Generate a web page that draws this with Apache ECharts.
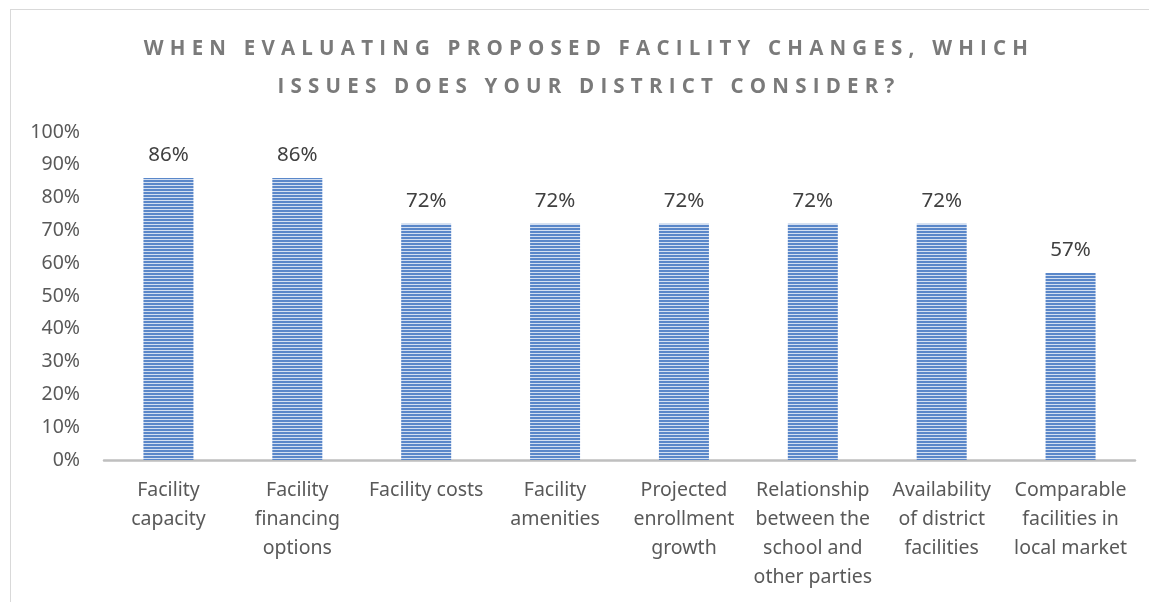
<!DOCTYPE html>
<html><head><meta charset="utf-8">
<script src="https://cdn.jsdelivr.net/npm/echarts@6/dist/echarts.min.js"></script>
<style>
html,body{margin:0;padding:0;background:#fff;}
#wrap{position:relative;width:1149px;height:602px;overflow:hidden;}
#frame{position:absolute;left:10px;top:9px;width:1160px;height:620px;border:1px solid #D9D9D9;box-sizing:border-box;}
#main{position:absolute;left:0;top:0;width:1149px;height:602px;}
#title{position:absolute;left:0;top:28px;width:1178px;text-align:center;font-family:"Open Sans",sans-serif;font-weight:bold;font-size:20.5px;line-height:38px;letter-spacing:6.2px;color:#7A7A7A;}
</style></head>
<body><div id="wrap"><div id="frame"></div><div id="main"></div>
<div id="title">WHEN EVALUATING PROPOSED FACILITY CHANGES, WHICH<br>ISSUES DOES YOUR DISTRICT CONSIDER?</div></div>
<script>
const categories = ['Facility\ncapacity','Facility\nfinancing\noptions','Facility costs','Facility\namenities','Projected\nenrollment\ngrowth','Relationship\nbetween the\nschool and\nother parties','Availability\nof district\nfacilities','Comparable\nfacilities in\nlocal market'];
const values = [86, 86, 72, 72, 72, 72, 72, 57];
const yTicks = [0,10,20,30,40,50,60,70,80,90,100];

const pc = document.createElement('canvas');
pc.width = 4; pc.height = 3;
const g = pc.getContext('2d');
g.fillStyle = '#D3DFF1'; g.fillRect(0,0,4,3);
g.fillStyle = '#5A87C9'; g.fillRect(0,0,4,2);

const chart = echarts.init(document.getElementById('main'));
chart.setOption({
  animation:false,
  textStyle:{fontFamily:'Noto Sans'},
  grid:{left:104,right:14,top:132,bottom:142,containLabel:false},
  xAxis:{type:'category',data:categories,
    axisLine:{lineStyle:{color:'#BFBFBF',width:2.5}},
    axisTick:{show:false},
    axisLabel:{color:'#595959',fontSize:19.5,lineHeight:29,margin:16,interval:0,fontFamily:'Noto Sans'}},
  yAxis:{type:'value',min:0,max:100,interval:10,
    axisLine:{show:false},axisTick:{show:false},splitLine:{show:false},
    axisLabel:{color:'#595959',fontSize:19.5,margin:24,fontFamily:'Noto Sans',
      formatter:v=>yTicks.includes(v)?v+'%':''}},
  series:[{type:'bar',data:values,barWidth:50,
    itemStyle:{color:{image:pc,repeat:'repeat'}},
    label:{show:true,position:'top',distance:12,color:'#404040',fontSize:20.5,fontFamily:'Noto Sans',formatter:p=>p.value+'%'}}]
});
</script></body></html>
